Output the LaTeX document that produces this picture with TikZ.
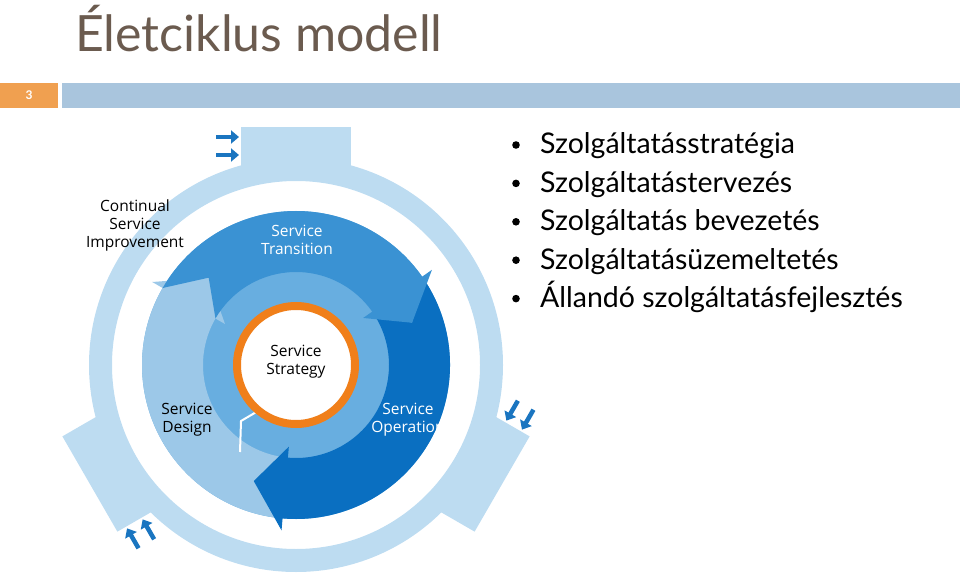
\documentclass[tikz,border=0pt]{standalone}
\usepackage{fontspec}
\setmainfont{Lato}
\newfontfamily\diagfont{Open Sans}
\usetikzlibrary{arrows.meta}
\definecolor{titlegray}{HTML}{6B5B4F}
\definecolor{barblue}{HTML}{A9C5DD}
\definecolor{barorange}{HTML}{F0A050}
\definecolor{ringblue}{HTML}{BDDCF1}
\definecolor{transblue}{HTML}{3A92D3}
\definecolor{operblue}{HTML}{0A6FC1}
\definecolor{designblue}{HTML}{9CC8E8}
\definecolor{innerblue}{HTML}{68AEE0}
\definecolor{arrowblue}{HTML}{1A75C0}
\definecolor{stratorange}{HTML}{F07F1A}
\tikzset{
  bulletitem/.style={anchor=base west,font=\fontsize{28.5}{28.5}\selectfont,inner sep=0pt},
  cyclelabel/.style={align=center,font=\diagfont\fontsize{15.5}{18}\selectfont},
  tabarrow/.style={arrowblue,line width=4.5pt,-{Triangle[length=8pt,width=13pt]}}
}
\newcommand{\cycleseg}[3]{%
  \fill[#3] (#1:154) arc[start angle=#1,end angle=#2,radius=154]
    -- (#2:166) -- ({#2-15}:123.5) -- (#2:82)
    -- (#2:93) arc[start angle=#2,end angle=#1,radius=93]
    -- ({#1-15}:123.5) -- cycle;}
\begin{document}
\begin{tikzpicture}[x=1pt,y=1pt]
  \useasboundingbox (0,0) rectangle (960,579);
  % title and slide bar
  \node[anchor=base west,titlegray,font=\fontsize{50}{50}\selectfont,inner sep=0pt] (title) at (75,527) {Életciklus modell};
  \fill[barorange] (0,471) rectangle (58,496);
  \node[white,font=\bfseries\fontsize{12}{12}\selectfont] (pagenum) at (29,483.5) {3};
  \fill[barblue] (62,471) rectangle (960,496);
  % bullets
  \foreach \txt [count=\i] in {Szolgáltatásstratégia,Szolgáltatástervezés,Szolgáltatás bevezetés,Szolgáltatásüzemeltetés,Állandó szolgáltatásfejlesztés}{
    \fill ({516},{579-154-38.4*(\i-1)+9}) circle (3.8);
    \node[bulletitem] (bul\i) at (540,{579-154-38.4*(\i-1)}) {\txt};
  }
  % lifecycle wheel
  \begin{scope}[shift={(296,214)}]
    \fill[ringblue,even odd rule] (0,0) circle (207) circle (184);
    \foreach \r in {0,120,240}{
      \begin{scope}[rotate=\r]
        \fill[ringblue] (-55,190) rectangle (55,238);
        \draw[tabarrow] (-80,228) -- (-57,228);
        \draw[tabarrow] (-80,210) -- (-57,210);
      \end{scope}
    }
    \fill[innerblue] (0,0) circle (154);
    \cycleseg{265}{150}{designblue}
    \cycleseg{35}{-95}{operblue}
    \cycleseg{150}{35}{transblue}
    \draw[white,line width=2pt] (-56,-87) -- (-55,-56) -- (-38,-46);
    \draw[stratorange,line width=8pt,fill=white] (0,0) circle (59);
    \node[cyclelabel] (strategy) at (0,3) {Service\\Strategy};
    \node[cyclelabel,white] (transition) at (1,125) {Service\\Transition};
    \node[cyclelabel] (design) at (-109,-55) {Service\\Design};
    \node[cyclelabel,white] (operation) at (112,-55) {Service\\Operation};
    \node[cyclelabel] (improvement) at (-161,140) {Continual\\Service\\Improvement};
  \end{scope}
\end{tikzpicture}
\end{document}
